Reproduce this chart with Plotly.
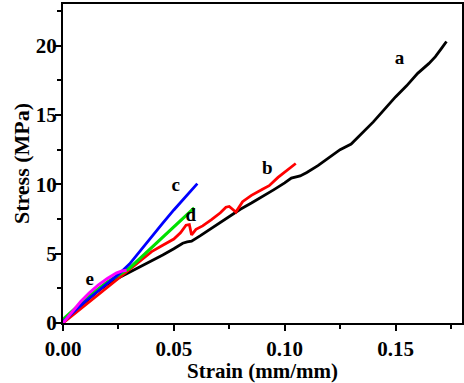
import plotly.graph_objects as go

strain_a = [0, 0.003, 0.006, 0.01, 0.015, 0.02, 0.025, 0.03, 0.035, 0.04, 0.045, 0.05, 0.054, 0.056, 0.058,
            0.062, 0.068, 0.075, 0.08, 0.085, 0.09, 0.095, 0.1, 0.103, 0.107, 0.11, 0.115, 0.12, 0.125, 0.13,
            0.135, 0.14, 0.145, 0.15, 0.155, 0.16, 0.165, 0.168, 0.171, 0.173]
stress_a = [0, 0.6, 1.0, 1.5, 2.2, 2.8, 3.25, 3.65, 4.1, 4.5, 4.9, 5.35, 5.75, 5.85, 5.9,
            6.3, 6.95, 7.65, 8.2, 8.65, 9.1, 9.6, 10.1, 10.45, 10.6, 10.85, 11.35, 11.9, 12.5, 12.9,
            13.7, 14.5, 15.4, 16.3, 17.1, 18.0, 18.7, 19.2, 19.85, 20.3]

strain_b = [0, 0.005, 0.01, 0.015, 0.02, 0.025, 0.03, 0.035, 0.04, 0.045, 0.05, 0.053, 0.0555, 0.057,
            0.0575, 0.058, 0.06, 0.063, 0.067, 0.071, 0.0735, 0.075, 0.0765, 0.078, 0.081, 0.085, 0.09,
            0.093, 0.097, 0.1, 0.103, 0.105]
stress_b = [0, 0.65, 1.3, 1.95, 2.6, 3.25, 3.9, 4.55, 5.15, 5.6, 6.05, 6.5, 7.05, 7.1,
            6.7, 6.35, 6.75, 7.0, 7.45, 7.95, 8.35, 8.4, 8.2, 8.0, 8.75, 9.2, 9.65,
            9.9, 10.5, 10.9, 11.3, 11.5]

strain_c = [0, 0.005, 0.01, 0.015, 0.02, 0.025, 0.03, 0.035, 0.04, 0.045, 0.05, 0.055, 0.0606]
stress_c = [0.1, 0.85, 1.55, 2.2, 2.85, 3.5, 4.25, 5.25, 6.25, 7.2, 8.15, 9.05, 10.05]

strain_d = [0, 0.005, 0.01, 0.015, 0.02, 0.025, 0.03, 0.035, 0.04, 0.045, 0.05, 0.055, 0.0592]
stress_d = [0.25, 1.0, 1.7, 2.35, 2.95, 3.45, 3.95, 4.7, 5.45, 6.2, 6.9, 7.65, 8.3]

strain_e = [0, 0.004, 0.008, 0.012, 0.016, 0.02, 0.024, 0.0265, 0.0287]
stress_e = [0, 0.8, 1.55, 2.2, 2.75, 3.2, 3.6, 3.75, 3.8]

label_text = ["<b>a</b>", "<b>b</b>", "<b>c</b>", "<b>d</b>", "<b>e</b>"]
label_x = [0.1518, 0.0922, 0.0508, 0.0577, 0.0121]
label_y = [19.0, 11.07, 9.88, 7.73, 3.06]

FONT = "Liberation Serif"

fig = go.Figure()
series = [
    (strain_a, stress_a, "#000000", 2.8),
    (strain_b, stress_b, "#ff0000", 2.8),
    (strain_d, stress_d, "#00e000", 3.2),
    (strain_c, stress_c, "#0000ff", 2.8),
    (strain_e, stress_e, "#ff00ff", 3.0),
]
for xs, ys, col, w in series:
    fig.add_trace(go.Scatter(x=xs, y=ys, mode="lines", line=dict(color=col, width=w),
                             showlegend=False, hoverinfo="skip"))

fig.add_trace(go.Scatter(x=label_x, y=label_y, mode="text", text=label_text,
                         textfont=dict(family=FONT, size=19, color="black"),
                         showlegend=False, hoverinfo="skip"))

axis_common = dict(
    showgrid=False, zeroline=False, showline=True, linecolor="black", linewidth=2,
    mirror=True, ticks="outside", ticklen=6, tickwidth=1.5, tickcolor="black",
    tickfont=dict(family=FONT, size=21, color="black", weight="bold"),
)

fig.update_xaxes(range=[0, 0.18], tickvals=[0, 0.05, 0.1, 0.15],
                 ticktext=["0.00", "0.05", "0.10", "0.15"], automargin=True,
                 minor=dict(ticks="outside", ticklen=4, tickwidth=1.5, tickcolor="black", dtick=0.025, tick0=0),
                 title=dict(text="<b>Strain (mm/mm)</b>", font=dict(family=FONT, size=21, color="black"),
                            standoff=4),
                 **axis_common)
fig.update_yaxes(range=[0, 23], tickvals=[0, 5, 10, 15, 20], ticklabelstandoff=-6, automargin=False,
                 minor=dict(ticks="outside", ticklen=4, tickwidth=1.5, tickcolor="black", dtick=2.5, tick0=0),
                 title=dict(text="<b>Stress (MPa)</b>", font=dict(family=FONT, size=22, color="black"),
                            standoff=0),
                 **axis_common)

fig.update_layout(width=464, height=383, margin=dict(l=63, r=2, t=2, b=60),
                  plot_bgcolor="white", paper_bgcolor="white")

fig.write_html("out.html", config={"displayModeBar": False},
               post_script="document.body.style.margin='0';document.body.style.padding='0';")
